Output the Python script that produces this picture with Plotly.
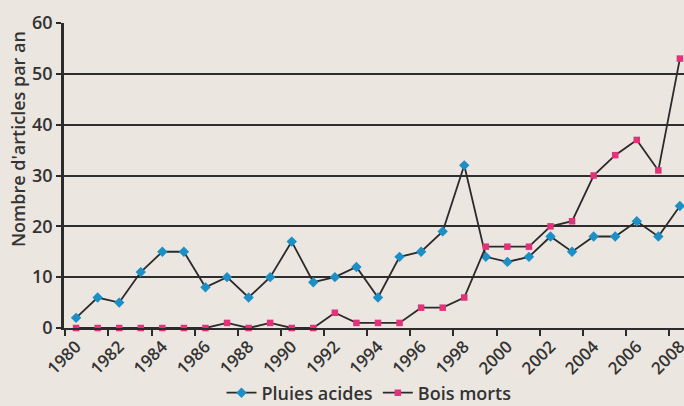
import plotly.graph_objects as go

years = list(range(1980, 2009))
pluies_acides = [2, 6, 5, 11, 15, 15, 8, 10, 6, 10, 17, 9, 10, 12, 6, 14, 15, 19, 32,
                 14, 13, 14, 18, 15, 18, 18, 21, 18, 24]
bois_morts = [0, 0, 0, 0, 0, 0, 0, 1, 0, 1, 0, 0, 3, 1, 1, 1, 4, 4, 6,
              16, 16, 16, 20, 21, 30, 34, 37, 31, 53]
tick_years = list(range(1980, 2009, 2))
y_ticks = [0, 10, 20, 30, 40, 50, 60]

FONT = "Open Sans"
TXT = "#333333"
BG = "#ebe6e0"
W = 600

fig = go.Figure()
fig.add_trace(go.Scatter(
    x=years, y=pluies_acides, name="Pluies acides", mode="lines+markers",
    line=dict(color="#2b2b2b", width=1.8),
    marker=dict(symbol="diamond", size=8, color="#1b8fc6"),
    cliponaxis=False))
fig.add_trace(go.Scatter(
    x=years, y=bois_morts, name="Bois morts", mode="lines+markers",
    line=dict(color="#2b2b2b", width=1.8),
    marker=dict(symbol="square", size=6.5, color="#e2337a"),
    cliponaxis=False))

fig.update_layout(
    width=684, height=406,
    margin=dict(l=64, r=0, t=23, b=78),
    paper_bgcolor=BG, plot_bgcolor=BG,
    font=dict(family=FONT, size=17, color=TXT, weight=W),
    showlegend=True,
    legend=dict(orientation="h", xref="container", yref="container",
                x=369/684, xanchor="center", y=(406-393)/406, yanchor="middle",
                font=dict(family=FONT, size=18, color=TXT, weight=W), bgcolor="rgba(0,0,0,0)",
                itemwidth=30, tracegroupgap=0),
    xaxis=dict(
        range=[1979.44, 2008.19], tickmode="array", tickvals=tick_years,
        ticktext=[str(v) for v in tick_years], tickangle=-45, ticks="",
        ticklabeloverflow="allow", automargin=False,
        showgrid=False, zeroline=False, showline=True, linecolor="#2b2b2b", linewidth=2,
        tickfont=dict(family=FONT, size=17, color=TXT, weight=W),
        minor=dict(tick0=1981.5, dtick=2, ticks="outside", ticklen=6,
                   tickwidth=2, tickcolor="#2b2b2b", showgrid=False)),
    yaxis=dict(
        range=[0, 60], tickmode="array", tickvals=y_ticks, ticks="outside", ticklen=5,
        ticklabelstandoff=0, automargin=False,
        tickwidth=2, tickcolor="#2b2b2b", showgrid=True, gridcolor="#2e2e2e", gridwidth=2,
        zeroline=False, showline=True, linecolor="#2b2b2b", linewidth=2.5,
        tickfont=dict(family=FONT, size=18, color=TXT, weight=W)),
)

fig.add_annotation(
    text="Nombre d'articles par an", xref="paper", yref="paper",
    x=-46/620, y=(328 - 139) / 305, xanchor="center", yanchor="middle",
    textangle=-90, showarrow=False, font=dict(family=FONT, size=18, color=TXT, weight=W))

fig.write_html("out.html", config={"displayModeBar": False},
               post_script="document.body.style.margin='0';document.body.style.background='%s';" % BG)
